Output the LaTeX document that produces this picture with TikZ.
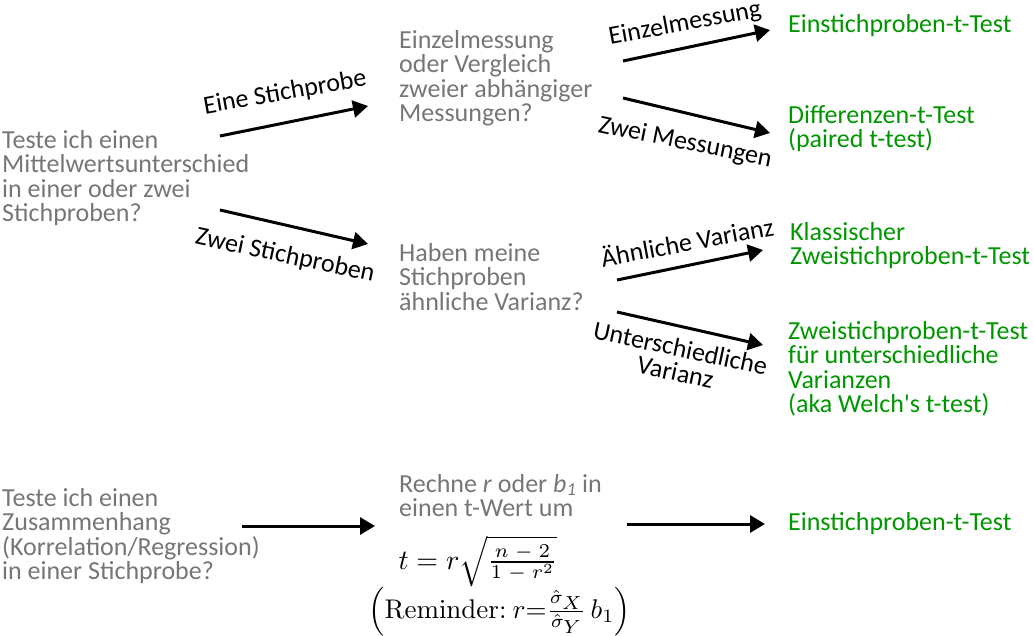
\documentclass[tikz,border=0pt]{standalone}
\usepackage[no-math]{fontspec}
\setmainfont{Carlito}
\usetikzlibrary{arrows.meta}
\definecolor{txtgray}{RGB}{118,118,118}
\definecolor{resgreen}{RGB}{0,150,0}
\newcommand\mlines[1]{\vtop{\let\\\cr\halign{##\hfil\cr#1\crcr}}}
\tikzset{
  q/.style={anchor=base west, inner sep=0pt, text=txtgray, font=\fontsize{26}{24.5}\selectfont},
  res/.style={q, text=resgreen},
  lab/.style={inner sep=0pt, text=black, font=\fontsize{26}{24.5}\selectfont},
  arr/.style={line width=3pt, -{Triangle[length=15pt,width=17pt]}},
  mathnode/.style={anchor=base west, inner sep=0pt}
}
\begin{document}
\begin{tikzpicture}[x=1pt,y=-1pt]
\useasboundingbox (0,0) rectangle (1034,635);
% questions
\node[q] (q1) at (2,148) {\mlines{Teste ich einen\\Mittelwertsunterschied\\in einer oder zwei\\Stichproben?}};
\node[q] (q2) at (399,48) {\mlines{Einzelmessung\\oder Vergleich\\zweier abhängiger\\Messungen?}};
\node[q] (q3) at (399,261) {\mlines{Haben meine\\Stichproben\\ähnliche Varianz?}};
\node[q] (q4) at (2,506) {\mlines{Teste ich einen\\Zusammenhang\\(Korrelation/Regression)\\in einer Stichprobe?}};
\node[q] (q5) at (399,492) {\mlines{Rechne \textit{r} oder \textit{b}\textsubscript{\textit{1}} in\\einen t-Wert um}};
% results
\node[res] (r1) at (788,32) {Einstichproben-t-Test};
\node[res] (r2) at (788,123) {\mlines{Differenzen-t-Test\\(paired t-test)}};
\node[res] (r3) at (790,240) {\mlines{Klassischer\\Zweistichproben-t-Test}};
\node[res] (r4) at (788,339) {\mlines{Zweistichproben-t-Test\\für unterschiedliche\\Varianzen\\(aka Welch\textquotesingle s t-test)}};
\node[res] (r5) at (788,530) {Einstichproben-t-Test};
% formulas
\node[mathnode, scale=2.8] (f1) at (398,569) {$t = r\sqrt{\frac{n\mkern5mu-\mkern5mu2}{1\mkern5mu-\mkern5mu r^2}}$};
\node[mathnode, scale=2.7] (f2) at (368,618) {$\Bigl(\mathrm{Reminder{:}}\ r{=}\frac{\hat\sigma_{\scriptstyle X}}{\hat\sigma_{\scriptstyle Y}}\,b_1\Bigr)$};
% arrow end points
\coordinate (a1s) at (220,136); \coordinate (a1e) at (368,106);
\coordinate (a2s) at (220,210); \coordinate (a2e) at (368,244);
\coordinate (a3s) at (623,61);  \coordinate (a3e) at (770,30);
\coordinate (a4s) at (623,98);  \coordinate (a4e) at (770,133);
\coordinate (a5s) at (617,280); \coordinate (a5e) at (763,250);
\coordinate (a6s) at (617,312); \coordinate (a6e) at (763,345);
\coordinate (a7s) at (242,526); \coordinate (a7e) at (375,526);
\coordinate (a8s) at (627,524); \coordinate (a8e) at (765,524);
\draw[arr] (a1s) -- (a1e);
\draw[arr] (a2s) -- (a2e);
\draw[arr] (a3s) -- (a3e);
\draw[arr] (a4s) -- (a4e);
\draw[arr] (a5s) -- (a5e);
\draw[arr] (a6s) -- (a6e);
\draw[arr] (a7s) -- (a7e);
\draw[arr] (a8s) -- (a8e);
% labels
\node[lab, rotate=10] (l1) at (285,93) {Eine Stichprobe};
\node[lab, rotate=-12] (l2) at (285,256) {Zwei Stichproben};
\node[lab, rotate=10.5] (l3) at (685,24) {Einzelmessung};
\node[lab, rotate=-11.5] (l4) at (685,143) {Zwei Messungen};
\node[lab, rotate=10.5] (l5) at (687,241) {Ähnliche Varianz};
\node[lab, rotate=-12, align=center] (l6) at (678,360) {Unterschiedliche\\Varianz};
\end{tikzpicture}
\end{document}
